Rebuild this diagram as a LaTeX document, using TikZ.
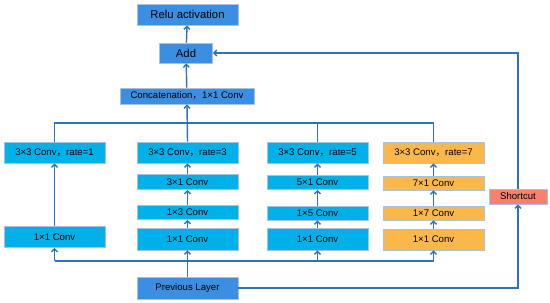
\documentclass[tikz,border=0pt]{standalone}
\usepackage{fontspec}
\setmainfont{Liberation Sans}
\newfontfamily\cjk{Noto Sans CJK SC}
\usepackage{tikz}
\usetikzlibrary{arrows.meta, positioning, calc}

\definecolor{convcyan}{HTML}{00B0E8}
\definecolor{layerblue}{HTML}{3A8FE2}
\definecolor{convorange}{HTML}{FBB84A}
\definecolor{shortred}{HTML}{F8806E}
\definecolor{linkblue}{HTML}{2E72B8}
\definecolor{boxedge}{HTML}{A7C2DE}

\newcommand{\fwcomma}{{\cjk ，}}

\begin{document}
\begin{tikzpicture}[x=1pt, y=-1pt, >={Straight Barb[length=3pt,width=6pt]},
    font=\fontsize{9.6}{11}\selectfont,
    box/.style={draw=boxedge, line width=0.8pt, rectangle, inner sep=0pt, minimum width=101pt},
    cbox/.style={box, fill=convcyan},
    obox/.style={box, fill=convorange},
    bbox/.style={box, fill=layerblue},
    link/.style={draw=linkblue, line width=1.4pt}]
\useasboundingbox (0,0) rectangle (550,303);

% top of the block
\node[bbox, minimum height=21pt, font=\fontsize{11.3}{13}\selectfont] (relu) at (187.5, 14.5) {Relu activation};
\node[bbox, minimum width=53pt, minimum height=20pt, font=\fontsize{11.3}{13}\selectfont] (add) at (186, 53) {Add};
\node[bbox, minimum width=134pt, minimum height=16pt] (concat) at (187, 96) {Concatenation\fwcomma 1×1 Conv};

% branch 1
\node[cbox, minimum height=21pt] (b1r) at (54.5, 152.5) {3×3 Conv\fwcomma rate=1};
\node[cbox, minimum height=21pt] (b1a) at (54.5, 237) {1×1 Conv};

% branch 2
\node[cbox, minimum height=21pt] (b2r) at (187.5, 152.5) {3×3 Conv\fwcomma rate=3};
\node[cbox, minimum height=15pt] (b2c) at (187.5, 182) {3×1 Conv};
\node[cbox, minimum height=14pt] (b2b) at (187.5, 212.5) {1×3 Conv};
\node[cbox, minimum height=22pt] (b2a) at (187.5, 239) {1×1 Conv};

% branch 3
\node[cbox, minimum height=21pt] (b3r) at (317.5, 152.5) {3×3 Conv\fwcomma rate=5};
\node[cbox, minimum height=14pt] (b3c) at (317.5, 182.5) {5×1 Conv};
\node[cbox, minimum height=14pt] (b3b) at (317.5, 213) {1×5 Conv};
\node[cbox, minimum height=22pt] (b3a) at (317.5, 239) {1×1 Conv};

% branch 4
\node[obox, minimum height=21pt] (b4r) at (433.5, 152.5) {3×3 Conv\fwcomma rate=7};
\node[obox, minimum height=14pt] (b4c) at (433.5, 183) {7×1 Conv};
\node[obox, minimum height=14pt] (b4b) at (433.5, 213) {1×7 Conv};
\node[obox, minimum height=21pt] (b4a) at (433.5, 239.5) {1×1 Conv};

\node[bbox, minimum height=22pt] (prev) at (187.5, 288) {Previous Layer};
\node[draw=boxedge, line width=0.8pt, fill=shortred, inner sep=0pt, minimum width=58pt, minimum height=15pt] (short) at (518, 196.5) {Shortcut};

\coordinate (bus) at (0, 261);
\coordinate (merge) at (0, 123);

% input side
\draw[link, ->] (prev.north) -- (b2a.south);
\draw[link] (bus -| b1a) -- (bus -| b4a);
\draw[link, ->] (bus -| b1a) -- (b1a.south);
\draw[link, ->] (bus -| b3a) -- (b3a.south);
\draw[link, ->] (bus -| b4a) -- (b4a.south);

% inside the branches
\draw[link, ->] (b1a) -- (b1r);
\draw[link, ->] (b2a) -- (b2b);
\draw[link, ->] (b2b) -- (b2c);
\draw[link, ->] (b2c) -- (b2r);
\draw[link, ->] (b3a) -- (b3b);
\draw[link, ->] (b3b) -- (b3c);
\draw[link, ->] (b3c) -- (b3r);
\draw[link, ->] (b4a) -- (b4b);
\draw[link, ->] (b4b) -- (b4c);
\draw[link, ->] (b4c) -- (b4r);

% merging
\draw[link] (b1r.north) |- (merge -| b4r) -- (b4r.north);
\draw[link] (b3r.north) -- (merge -| b3r);
\draw[link, ->] (b2r.north) -- (concat.south);
\draw[link, ->] (concat) -- (add);
\draw[link, ->] (add) -- (relu);

% shortcut
\draw[link, ->] (prev.east) -| (short.south);
\draw[link, ->] (short.north) |- (add.east);
\end{tikzpicture}
\end{document}
